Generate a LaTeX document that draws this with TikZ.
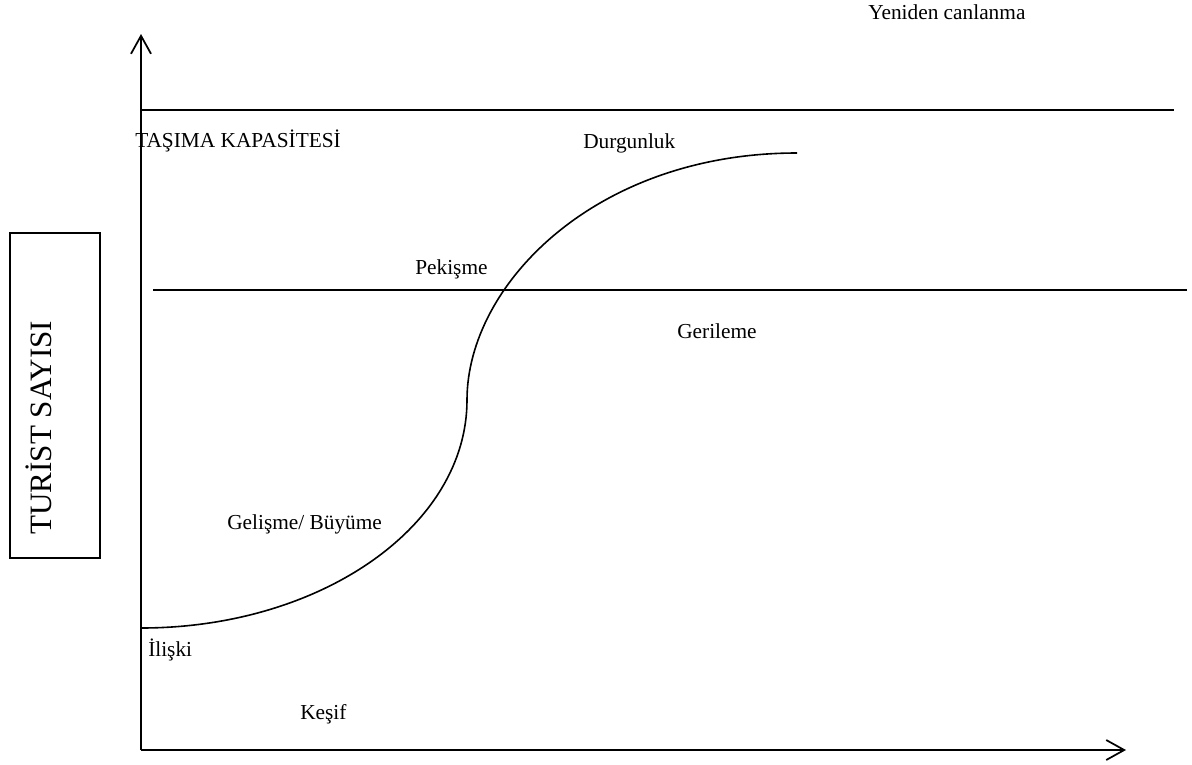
\documentclass[tikz,border=0pt]{standalone}
\usepackage{fontspec}
\setmainfont{Liberation Serif}
\usetikzlibrary{arrows.meta}

\begin{document}
\begin{tikzpicture}[x=0.75pt,y=0.75pt,yscale=-1,xscale=1,
  axisline/.style={line width=1.3pt,-{Straight Barb[length=13.5pt,width=15pt]}},
  levelline/.style={line width=1.3pt},
  lbl/.style={anchor=base west,inner sep=0pt,font=\fontsize{16}{19}\selectfont}]
\useasboundingbox (0,0) rectangle (1192,764);

%Axes
\coordinate (orig) at (141,750);
\coordinate (ytip) at (141,34);
\coordinate (xtip) at (1126,750);
\draw [axisline] (orig) -- (ytip);
\draw [axisline] (orig) -- (xtip);

%Straight Lines
\coordinate (kapL) at (141,110);
\coordinate (kapR) at (1174,110);
\draw [levelline] (kapL) -- (kapR);
\coordinate (pekL) at (153,290);
\coordinate (pekR) at (1187,290);
\draw [levelline] (pekL) -- (pekR);

%Curve Lines
\coordinate (cStart) at (141,628);
\coordinate (cMid) at (467,400);
\coordinate (cEnd) at (797,153);
\draw [line width=1.2pt] (cStart) .. controls (321,628) and (467,526) .. (cMid)
  .. controls (467,285) and (595,153) .. (cEnd);

%Shape: Rectangle
\draw [line width=1.1pt] (10,233) rectangle (100,558);

% Text Node
\node [lbl,rotate=90,font=\fontsize{23.3}{28}\selectfont] (turist) at (51,535) {TURİST SAYISI};
% Text Node
\node [lbl] (yeniden) at (868,19) {Yeniden canlanma};
% Text Node
\node [lbl] (tasima) at (135,147.5) {TAŞIMA KAPASİTESİ};
% Text Node
\node [lbl] (durgun) at (583,148) {Durgunluk};
% Text Node
\node [lbl] (pekisme) at (415,274) {Pekişme};
% Text Node
\node [lbl] (gerileme) at (677,338) {Gerileme};
% Text Node
\node [lbl] (gelisme) at (227,529) {Gelişme/ Büyüme};
% Text Node
\node [lbl] (iliski) at (148,656) {İlişki};
% Text Node
\node [lbl] (kesif) at (300,719) {Keşif};

\end{tikzpicture}
\end{document}
